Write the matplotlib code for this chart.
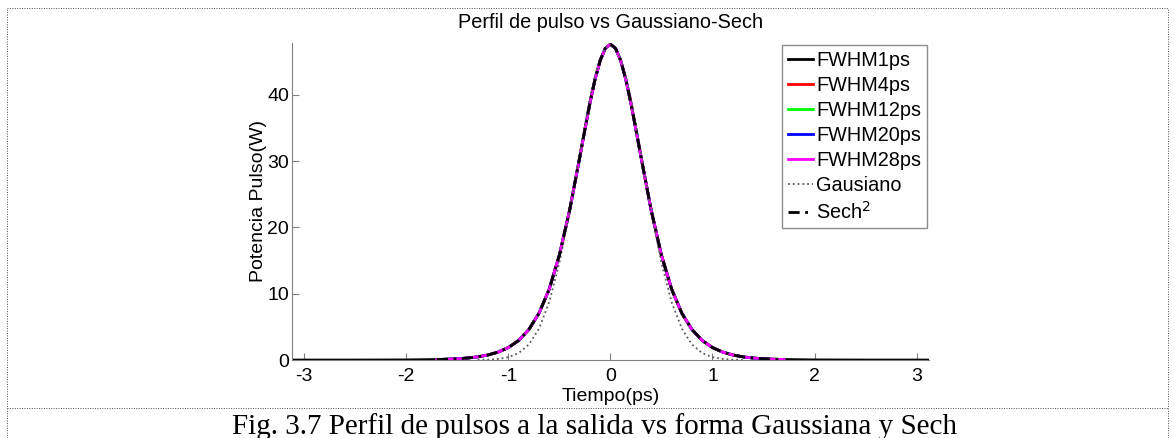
#!/usr/bin/env python3
"""Perfil de pulso vs Gaussiano-Sech: output pulses against Gaussian and sech^2 shapes."""
import matplotlib
matplotlib.use("Agg")
import matplotlib.pyplot as plt
from matplotlib.lines import Line2D

# time axis (ps)
t_core = [-1.7, -1.6, -1.5, -1.4, -1.3, -1.2, -1.1, -1.0, -0.9, -0.8, -0.7, -0.6,
          -0.5, -0.4, -0.3, -0.25, -0.2, -0.15, -0.1, -0.05, 0.0, 0.05, 0.1, 0.15,
          0.2, 0.25, 0.3, 0.4, 0.5, 0.6, 0.7, 0.8, 0.9, 1.0, 1.1, 1.2, 1.3, 1.4,
          1.5, 1.6, 1.7]
# output pulse power (W); all FWHM runs lie on top of each other
p_out = [0.08, 0.12, 0.19, 0.30, 0.48, 0.76, 1.20, 1.88, 2.94, 4.58, 7.04, 10.67,
         15.81, 22.55, 30.59, 34.75, 38.79, 42.36, 45.17, 46.98, 47.60, 46.98, 45.17,
         42.36, 38.79, 34.75, 30.59, 22.55, 15.81, 10.67, 7.04, 4.58, 2.94, 1.88,
         1.20, 0.76, 0.48, 0.30, 0.19, 0.12, 0.08]
# the 1 ps run has a wider time window, flat at zero in the tails
t_wide_left = [-3.12, -2.5, -2.0]
t_wide_right = [2.0, 2.5, 3.12]
p_tail = [0.0, 0.0, 0.02]

t_gauss = [-1.3, -1.2, -1.1, -1.0, -0.9, -0.8, -0.7, -0.6, -0.5, -0.4, -0.3, -0.25,
           -0.2, -0.15, -0.1, -0.05, 0.0, 0.05, 0.1, 0.15, 0.2, 0.25, 0.3, 0.4,
           0.5, 0.6, 0.7, 0.8, 0.9, 1.0, 1.1, 1.2, 1.3]
p_gauss = [0.02, 0.05, 0.16, 0.43, 1.04, 2.33, 4.72, 8.72, 14.64, 22.39, 31.14, 35.45,
           39.42, 42.81, 45.41, 47.04, 47.60, 47.04, 45.41, 42.81, 39.42, 35.45, 31.14,
           22.39, 14.64, 8.72, 4.72, 2.33, 1.04, 0.43, 0.16, 0.05, 0.02]

p_sech = p_out

runs = ["FWHM1ps", "FWHM4ps", "FWHM12ps", "FWHM20ps", "FWHM28ps"]
run_colors = ["black", "red", "#00ff00", "blue", "magenta"]

x_ticks = [-3, -2, -1, 0, 1, 2, 3]
y_ticks = [0, 10, 20, 30, 40]


def main():
    plt.rcParams["font.family"] = ["Liberation Sans", "DejaVu Sans"]
    plt.rcParams["axes.unicode_minus"] = False
    fig = plt.figure(figsize=(11.75, 4.38), dpi=100)
    ax = fig.add_axes([0.2485, 0.178, 0.542, 0.724])

    for name, col in zip(runs, run_colors):
        if name == "FWHM1ps":
            tt = t_wide_left + t_core + t_wide_right
            pp = p_tail + p_out + p_tail[::-1]
        else:
            tt, pp = t_core, p_out
        ax.plot(tt, pp, color=col, lw=2, label=name)
    ax.plot(t_gauss, p_gauss, color="0.35", lw=1.3, ls=":", label="Gausiano")
    ax.plot(t_core, p_sech, color="black", lw=2, ls=(0, (4, 2, 1, 2)), label="Sech$^2$")

    ax.set_xlim(-3.12, 3.12)
    ax.set_ylim(0, 47.8)
    ax.set_xticks(x_ticks)
    ax.set_yticks(y_ticks)
    for s in ("top", "right"):
        ax.spines[s].set_visible(False)
    for s in ("left", "bottom"):
        ax.spines[s].set_color("0.5")
    ax.tick_params(direction="in", length=5, color="0.5", labelsize=14)
    ax.tick_params(axis="x", pad=6)
    ax.tick_params(axis="y", pad=2)

    ax.set_title("Perfil de pulso vs Gaussiano-Sech", fontsize=14.3, pad=11)
    ax.set_xlabel("Tiempo(ps)", fontsize=14, labelpad=2)
    ax.set_ylabel("Potencia Pulso(W)", fontsize=14, labelpad=0)

    leg = ax.legend(loc="upper right", bbox_to_anchor=(1.0, 1.0), fontsize=14.3,
                    frameon=True, fancybox=False, edgecolor="0.55", framealpha=1,
                    handlelength=1.25, handletextpad=0.15, borderpad=0.3,
                    labelspacing=0.3, borderaxespad=0.1)
    leg.get_frame().set_linewidth(1)

    # dotted page/table borders around the figure
    kw = dict(transform=fig.transFigure, color="0.3", lw=0.7, ls=(0, (1, 1.5)))
    top, mid, left, right = 1 - 8 / 438, 1 - 408 / 438, 7 / 1175, 1 - 7 / 1175
    fig.add_artist(Line2D([left, right], [top, top], **kw))
    fig.add_artist(Line2D([left, right], [mid, mid], **kw))
    fig.add_artist(Line2D([left, left], [0, top], **kw))
    fig.add_artist(Line2D([right, right], [0, top], **kw))

    fig.text(0.506, 0.01, "Fig. 3.7 Perfil de pulsos a la salida vs forma Gaussiana y Sech",
             ha="center", va="baseline", fontsize=21,
             family=["Liberation Serif", "DejaVu Serif"])

    fig.savefig("out.png", dpi=100)


if __name__ == "__main__":
    main()
